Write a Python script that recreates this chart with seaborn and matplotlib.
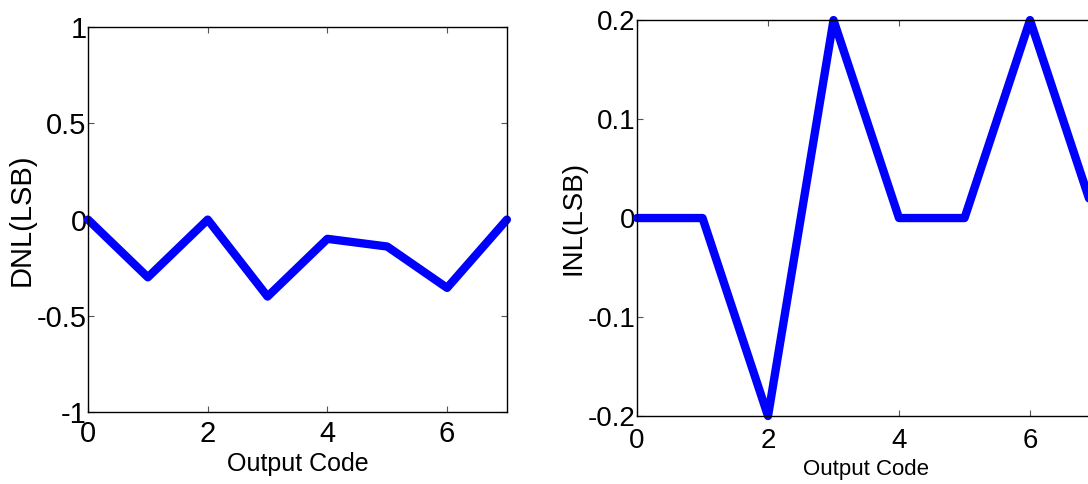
import numpy as np
import pandas as pd
import matplotlib
matplotlib.use("Agg")
import matplotlib.pyplot as plt
import seaborn as sns

# data
codes = [0, 1, 2, 3, 4, 5, 6, 7]
dnl = [0, -0.3, 0, -0.4, -0.1, -0.14, -0.355, 0]
inl = [0, 0, -0.2, 0.2, 0, 0, 0.2, 0]

dnl_ticks = [-1, -0.5, 0, 0.5, 1]
dnl_labels = ["-1", "-0.5", "0", "0.5", "1"]
inl_ticks = [-0.2, -0.1, 0, 0.1, 0.2]
inl_labels = ["-0.2", "-0.1", "0", "0.1", "0.2"]
x_ticks = [0, 2, 4, 6]

sns.set_style("white")
plt.rcParams['font.family'] = ['Liberation Sans', 'DejaVu Sans']
plt.rcParams['text.color'] = 'black'
plt.rcParams['axes.labelcolor'] = 'black'
plt.rcParams['xtick.color'] = 'black'
plt.rcParams['ytick.color'] = 'black'

df = pd.DataFrame({'code': codes, 'dnl': dnl, 'inl': inl})

fig = plt.figure(figsize=(10.88, 4.84), dpi=100)
ax1 = fig.add_axes([0.0809, 0.1488, 0.385, 0.795])
ax2 = fig.add_axes([0.5855, 0.1405, 0.4214, 0.818])


def style_ax(ax, yticks, ylabels, ylabel, tick_fs, xl_fs, yl_fs, xpad):
    ax.set_xlim(0, 7)
    ax.set_xticks(x_ticks)
    ax.set_xticklabels([str(t) for t in x_ticks], fontsize=tick_fs)
    ax.set_yticks(yticks)
    ax.set_yticklabels(ylabels, fontsize=tick_fs)
    ax.set_ylim(yticks[0], yticks[-1])
    ax.tick_params(direction='in', length=4, width=0.8, color='#555555',
                   top=True, right=True, bottom=True, left=True)
    ax.tick_params(axis='x', pad=xpad, labelcolor='black')
    ax.tick_params(axis='y', pad=1, labelcolor='black')
    for s in ax.spines.values():
        s.set_visible(True)
        s.set_color('black')
        s.set_linewidth(1.0)
    ax.set_xlabel('Output Code', fontsize=xl_fs, labelpad=3, color='black')
    ax.set_ylabel(ylabel, fontsize=yl_fs, labelpad=1, color='black')
    ax.grid(False)


sns.lineplot(data=df, x='code', y='dnl', ax=ax1, color='#0000ff', linewidth=6)
style_ax(ax1, dnl_ticks, dnl_labels, 'DNL(LSB)', 21, 18, 21, 6)

sns.lineplot(data=df, x='code', y='inl', ax=ax2, color='#0000ff', linewidth=6)
style_ax(ax2, inl_ticks, inl_labels, 'INL(LSB)', 20, 16, 20, 9)

for ax in (ax1, ax2):
    ax.lines[0].set_clip_on(False)

fig.savefig('out.png', dpi=100)
